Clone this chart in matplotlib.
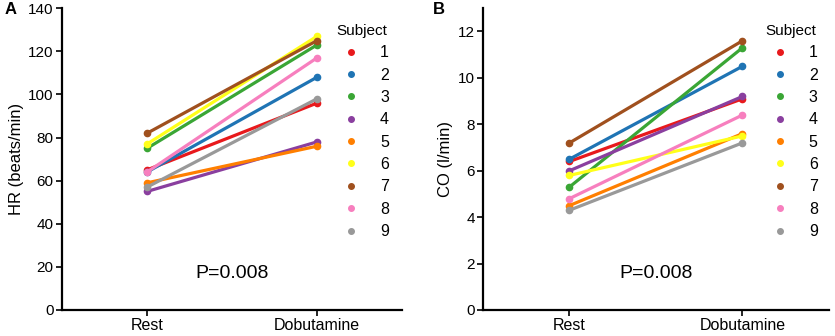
import numpy as np
import matplotlib.pyplot as plt
from matplotlib.lines import Line2D

plt.rcParams['font.family'] = ['Liberation Sans', 'DejaVu Sans']

conditions = ['Rest', 'Dobutamine']
subjects = ['1', '2', '3', '4', '5', '6', '7', '8', '9']
colors = ['#e8191c', '#1f74b4', '#3aa635', '#8a3f9f', '#ff7f00',
          '#ffff1a', '#a0501e', '#f77fbe', '#999999']

hr_rest = [65, 64, 75, 55, 59, 77, 82, 64, 57]
hr_dob = [96, 108, 123, 78, 76, 127, 125, 117, 98]

co_rest = [6.4, 6.5, 5.3, 6.0, 4.5, 5.8, 7.2, 4.8, 4.3]
co_dob = [9.1, 10.5, 11.3, 9.2, 7.6, 7.5, 11.6, 8.4, 7.2]

fig = plt.figure(figsize=(8.35, 3.36), dpi=100)
ax1 = fig.add_axes([0.0743, 0.0774, 0.4071, 0.898])
ax2 = fig.add_axes([0.5784, 0.0774, 0.4144, 0.898])

x = np.arange(len(conditions))


def draw(ax, rest, dob, ylim, yticks, ylabel, letter, lx, anchor_x):
    for i in range(len(subjects)):
        ax.plot(x, [rest[i], dob[i]], color=colors[i], lw=2.3,
                marker='o', markersize=4.5, solid_capstyle='round')
    ax.set_xlim(-0.5, 1.5)
    ax.set_ylim(*ylim)
    ax.set_yticks(yticks)
    ax.set_xticks(x)
    ax.set_xticklabels(conditions)
    ax.set_ylabel(ylabel, fontsize=12, labelpad=3)
    for s in ['top', 'right']:
        ax.spines[s].set_visible(False)
    for s in ['left', 'bottom']:
        ax.spines[s].set_linewidth(1.6)
    ax.tick_params(width=1.2, length=4, labelsize=11, pad=2)
    ax.tick_params(axis='x', labelsize=11.5)
    ax.text(0.5, 0.12, 'P=0.008', transform=ax.transAxes,
            ha='center', va='center', fontsize=14)
    fig.text(lx, 0.972, letter, fontsize=12, fontweight='bold',
             ha='left', va='center')
    handles = [Line2D([], [], ls='', marker='o', color=c, markersize=4)
               for c in colors]
    leg = ax.legend(handles, subjects, title='Subject', frameon=False,
                    loc='upper right', bbox_to_anchor=(anchor_x, 0.985),
                    fontsize=11.5, title_fontsize=11, labelspacing=0.46,
                    handletextpad=0.8, borderpad=0.2)
    leg._legend_box.align = 'center'
    return leg


draw(ax1, hr_rest, hr_dob, (0, 140), np.arange(0, 141, 20),
     'HR (beats/min)', 'A', 0.005, 0.995)
draw(ax2, co_rest, co_dob, (0, 13), np.arange(0, 13, 2),
     'CO (l/min)', 'B', 0.519, 1.0)

fig.savefig('out.png', dpi=100)
